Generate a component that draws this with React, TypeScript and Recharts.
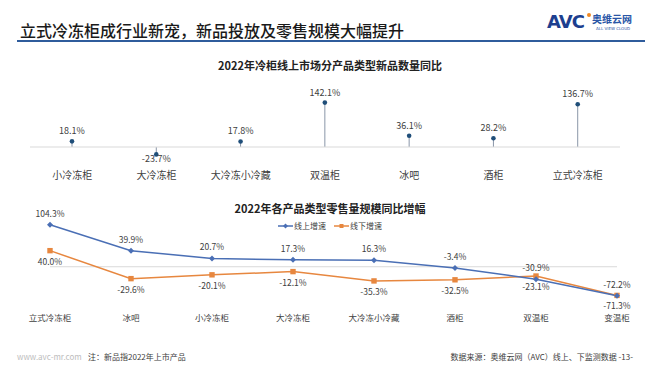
import React from 'react';
import { ComposedChart, Bar, XAxis, YAxis, ReferenceLine, LineChart, Line, LabelList } from 'recharts';

const FONT = "'Noto Sans CJK SC', 'Noto Sans', sans-serif";

// Top chart: 2022 new product count YoY by product type (online)
const newProductCats = ['小冷冻柜', '大冷冻柜', '大冷冻小冷藏', '双温柜', '冰吧', '酒柜', '立式冷冻柜'];
const newProductYoY = [18.1, -23.7, 17.8, 142.1, 36.1, 28.2, 136.7];

// Bottom chart: 2022 retail volume YoY by product type
const retailCats = ['立式冷冻柜', '冰吧', '小冷冻柜', '大冷冻柜', '大冷冻小冷藏', '酒柜', '双温柜', '变温柜'];
const onlineGrowth = [104.3, 39.9, 20.7, 17.3, 16.3, -3.4, -30.9, -72.2];
const offlineGrowth = [40.0, -29.6, -20.1, -12.1, -35.3, -32.5, -23.1, -71.3];

const newData = newProductCats.map((name, i) => ({ name, value: newProductYoY[i] }));
const retailData = retailCats.map((name, i) => ({ name, online: onlineGrowth[i], offline: offlineGrowth[i] }));

const BLUE = '#4A6FB5';
const ORANGE = '#E7873F';
const fmt = (v: number) => `${v.toFixed(1)}%`;

const Lollipop = (props: any) => {
  const { x, y, width, height, payload } = props;
  const cx = x + width / 2;
  const top = Math.min(y, y + height);
  const bottom = Math.max(y, y + height);
  const v = payload.value;
  const dotY = v >= 0 ? top : bottom;
  const baseY = v >= 0 ? bottom : top;
  return (
    <g>
      <line x1={cx} x2={cx} y1={baseY} y2={dotY} stroke="#8A96A8" strokeWidth={1} />
      <circle cx={cx} cy={dotY} r={2.3} fill="#1F4E79" />
      <text x={cx} y={v >= 0 ? dotY - 7 : dotY + 8} textAnchor="middle" fontSize={9} fill="#404040" fontFamily={FONT}>
        {fmt(v)}
      </text>
    </g>
  );
};

const Diamond = (props: any) => {
  const { cx, cy } = props;
  if (cx == null || cy == null) return <g />;
  return <path d={`M${cx},${cy - 3} L${cx + 3},${cy} L${cx},${cy + 3} L${cx - 3},${cy} Z`} fill={BLUE} />;
};

const Square = (props: any) => {
  const { cx, cy } = props;
  if (cx == null || cy == null) return <g />;
  return <rect x={cx - 2.7} y={cy - 2.7} width={5.4} height={5.4} fill={ORANGE} />;
};

const TopLabel = (props: any) => {
  const { x, y, value } = props;
  return (
    <text x={x} y={y - 8} textAnchor="middle" fontSize={8.5} fill="#404040" fontFamily={FONT}>
      {fmt(value)}
    </text>
  );
};

const BottomLabel = (props: any) => {
  const { x, y, value } = props;
  return (
    <text x={x} y={y + 14} textAnchor="middle" fontSize={8.5} fill="#404040" fontFamily={FONT}>
      {fmt(value)}
    </text>
  );
};

const abs = (o: React.CSSProperties): React.CSSProperties => ({ position: 'absolute', ...o });

export default function App() {
  return (
    <div style={abs({ left: 0, top: 0, width: 660, height: 372, background: '#fff', fontFamily: FONT, overflow: 'hidden', color: '#222' })}>
      {/* Header */}
      <div style={abs({ left: 20, top: 19, fontSize: 16, lineHeight: '22px', fontWeight: 500, color: '#1a1a1a', whiteSpace: 'nowrap' })}>
        立式冷冻柜成行业新宠，新品投放及零售规模大幅提升
      </div>
      <div style={abs({ left: 17, top: 40, width: 628, height: 2, background: '#2F5C9C' })} />
      <div style={abs({ left: 547, top: 12, fontSize: 18, lineHeight: '20px', fontWeight: 900, color: '#1D3F8F', fontFamily: "'DejaVu Sans', sans-serif", letterSpacing: -1 })}>
        AVC
      </div>
      <div style={abs({ left: 587, top: 13, width: 4, height: 4, borderRadius: 2, background: '#F08A24' })} />
      <div style={abs({ left: 592, top: 13, fontSize: 10, lineHeight: '12px', fontWeight: 700, color: '#2A56A6' })}>奥维云网</div>
      <div style={abs({ left: 596, top: 26, fontSize: 4, lineHeight: '5px', color: '#2A56A6', fontFamily: "'DejaVu Sans', sans-serif" })}>ALL VIEW CLOUD</div>

      {/* Top chart */}
      <div style={abs({ left: 0, top: 58, width: 660, textAlign: 'center', fontSize: 11, lineHeight: '14px', fontWeight: 700, color: '#222' })}>
        2022年冷柜线上市场分产品类型新品数量同比
      </div>
      <div style={abs({ left: 0, top: 0 })}>
        <ComposedChart width={660} height={200} data={newData} margin={{ top: 97, right: 40, bottom: 4.25, left: 30 }}>
          <YAxis hide domain={[-60, 160]} />
          <XAxis dataKey="name" axisLine={false} tickLine={false} height={30} tickSize={5} tickMargin={1}
            tick={{ fontSize: 10, fill: '#404040', fontFamily: FONT }} interval={0} />
          <ReferenceLine y={0} stroke="#D9D9D9" strokeWidth={1} />
          <Bar dataKey="value" barSize={4} shape={Lollipop} isAnimationActive={false} />
        </ComposedChart>
      </div>

      {/* Bottom chart */}
      <div style={abs({ left: 0, top: 201, width: 660, textAlign: 'center', fontSize: 11, lineHeight: '14px', fontWeight: 700, color: '#222' })}>
        2022年各产品类型零售量规模同比增幅
      </div>
      <div style={abs({ left: 278, top: 220, display: 'flex', alignItems: 'center', fontSize: 8, lineHeight: '12px', color: '#404040', whiteSpace: 'nowrap' })}>
        <svg width={15} height={8} style={{ marginRight: 1 }}>
          <line x1={0} x2={15} y1={4} y2={4} stroke={BLUE} strokeWidth={1.5} />
          <path d="M7.5,1.5 L10,4 L7.5,6.5 L5,4 Z" fill={BLUE} />
        </svg>
        <span style={{ marginRight: 8 }}>线上增速</span>
        <svg width={15} height={8} style={{ marginRight: 1 }}>
          <line x1={0} x2={15} y1={4} y2={4} stroke={ORANGE} strokeWidth={1.5} />
          <rect x={5.5} y={2} width={4} height={4} fill={ORANGE} />
        </svg>
        <span>线下增速</span>
      </div>
      <div style={abs({ left: 0, top: 190 })}>
        <LineChart width={660} height={150} data={retailData} margin={{ top: 28.5, right: 43, bottom: 11.1, left: 50 }}>
          <YAxis hide domain={[-80, 120]} />
          <XAxis dataKey="name" axisLine={false} tickLine={false} height={30} tickSize={5} tickMargin={11}
            tick={{ fontSize: 8.5, fill: '#404040', fontFamily: FONT }} interval={0} />
          <ReferenceLine y={0} stroke="#D9D9D9" strokeWidth={1} />
          <Line dataKey="offline" stroke={ORANGE} strokeWidth={1.5} dot={Square} isAnimationActive={false}>
            <LabelList dataKey="offline" content={BottomLabel} />
          </Line>
          <Line dataKey="online" stroke={BLUE} strokeWidth={1.5} dot={Diamond} isAnimationActive={false}>
            <LabelList dataKey="online" content={TopLabel} />
          </Line>
        </LineChart>
      </div>

      {/* Footer */}
      <div style={abs({ left: 17, top: 351, fontSize: 8, lineHeight: '11px', color: '#BDBDBD', whiteSpace: 'nowrap' })}>www.avc-mr.com</div>
      <div style={abs({ left: 88, top: 351, fontSize: 8, lineHeight: '11px', color: '#404040', whiteSpace: 'nowrap' })}>注：新品指2022年上市产品</div>
      <div style={abs({ right: 27, top: 351, fontSize: 8, lineHeight: '11px', color: '#404040', whiteSpace: 'nowrap' })}>数据来源：奥维云网（AVC）线上、下监测数据 -13-</div>
    </div>
  );
}
